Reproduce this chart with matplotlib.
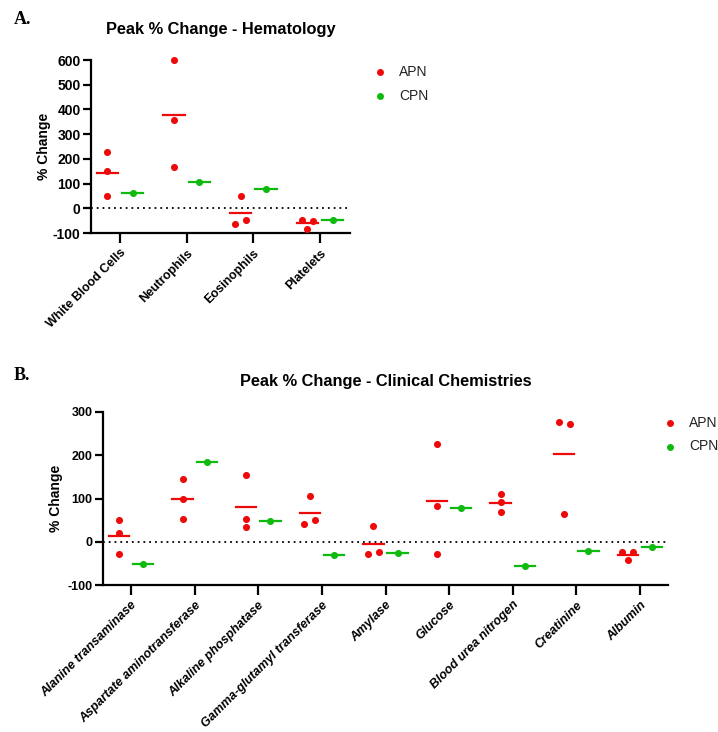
import matplotlib
matplotlib.use("Agg")
import matplotlib.pyplot as plt
import numpy as np
from matplotlib.lines import Line2D

plt.rcParams['font.family'] = ['Liberation Sans', 'DejaVu Sans']

# ---------------- data ----------------
hema_cats = ["White Blood Cells", "Neutrophils", "Eosinophils", "Platelets"]
hema_apn = [[226, 150, 50], [600, 359, 168], [51, -62, -47], [-84, -46, -51]]
hema_cpn = [62, 106, 77, -49]
hema_yticks = [-100, 0, 100, 200, 300, 400, 500, 600]

chem_cats = ["Alanine transaminase", "Aspartate aminotransferase", "Alkaline phosphatase",
             "Gamma-glutamyl transferase", "Amylase", "Glucose", "Blood urea nitrogen",
             "Creatinine", "Albumin"]
chem_apn = [[51, 20, -28], [145, 100, 52], [154, 53, 34], [106, 41, 50], [36, -29, -23],
            [226, 82, -28], [110, 91, 69], [276, 272, 64], [-23, -24, -43]]
chem_cpn = [-51, 184, 48, -30, -25, 77, -57, -21, -11]
chem_yticks = [-100, 0, 100, 200, 300]

series_names = ["APN", "CPN"]

RED = '#ee0a0a'
GREEN = '#0fba0f'
W, H = 718, 732

fig = plt.figure(figsize=(W / 100, H / 100), dpi=100)


def axes_px(l, t, r, b):
    return fig.add_axes([l / W, (H - b) / H, (r - l) / W, (b - t) / H])


def swarm_offsets(vals, px_per_unit_y, px_per_unit_x, thr=6.0, step=11.0):
    vals = np.asarray(vals, float)
    order = np.argsort(vals)
    clusters = [[order[0]]]
    for i in order[1:]:
        if (vals[i] - vals[clusters[-1][-1]]) * px_per_unit_y < thr:
            clusters[-1].append(i)
        else:
            clusters.append([i])
    offs = np.zeros(len(vals))
    for c in clusters:
        c = sorted(c)
        k = len(c)
        for j, idx in enumerate(c):
            offs[idx] = (j - (k - 1) / 2) * step / px_per_unit_x
    return offs


def panel(ax, cats, apn, cpn, ylim, yticks, xlim, title, italic, legend_xy, axbox,
          yfs, xfs, ylabel_pad):
    ax.set_xlim(*xlim)
    ax.set_ylim(*ylim)
    l, t, r, b = axbox
    ppy = (b - t) / (ylim[1] - ylim[0])
    ppx = (r - l) / (xlim[1] - xlim[0])
    d = 0.19
    hw = 0.16
    x = np.arange(len(cats))
    for i, vals in enumerate(apn):
        offs = swarm_offsets(vals, ppy, ppx)
        ax.scatter(x[i] - d + offs, vals, s=26, color=RED, zorder=3, linewidths=0, clip_on=False)
        m = np.mean(vals)
        ax.plot([x[i] - d - hw, x[i] - d + hw], [m, m], color=RED, lw=1.6, zorder=3)
    for i, v in enumerate(cpn):
        ax.scatter([x[i] + d], [v], s=26, color=GREEN, zorder=3, linewidths=0)
        ax.plot([x[i] + d - hw, x[i] + d + hw], [v, v], color=GREEN, lw=1.6, zorder=3)
    ax.axhline(0, color='black', lw=1.3, ls=(0, (1, 2.2)), zorder=1)
    for s in ['top', 'right']:
        ax.spines[s].set_visible(False)
    for s in ['left', 'bottom']:
        ax.spines[s].set_linewidth(1.6)
    ax.tick_params(axis='y', direction='out', length=6, width=1.6, pad=1.5)
    ax.tick_params(axis='x', direction='out', length=7, width=1.6, pad=3)
    ax.set_yticks(yticks)
    ax.set_yticklabels([str(v) for v in yticks], fontsize=yfs, fontweight='bold')
    ax.set_xticks(x)
    ax.set_xticklabels(cats, rotation=45, ha='right', va='top', rotation_mode='anchor',
                       fontsize=xfs, fontweight='bold', style='italic' if italic else 'normal')
    ax.set_ylabel('% Change', fontsize=10, fontweight='bold', labelpad=ylabel_pad)
    ax.set_title(title, fontsize=11.8, fontweight='bold', pad=19)
    lx, ly = legend_xy
    for k, (name, col) in enumerate(zip(series_names, [RED, GREEN])):
        yy = ly + k * 23.5
        fig.add_artist(Line2D([lx / W], [1 - yy / H], marker='o', ms=5, color=col, mew=0, ls='none'))
        fig.text((lx + 19) / W, 1 - yy / H, name, fontsize=10, va='center', ha='left', color='#222222')


boxA = (91, 60, 350, 233)
axA = axes_px(*boxA)
panel(axA, hema_cats, hema_apn, hema_cpn, (-100, 600), hema_yticks, (-0.435, 3.45),
      'Peak % Change - Hematology', False, (380, 72), boxA, 10, 9, 1.5)

boxB = (103, 412, 668, 585)
axB = axes_px(*boxB)
panel(axB, chem_cats, chem_apn, chem_cpn, (-100, 300), chem_yticks, (-0.44, 8.44),
      'Peak % Change - Clinical Chemistries', True, (670, 423), boxB, 9, 9, 3.5)

fig.text(14 / W, 1 - 20 / H, 'A.', fontsize=13, fontweight='bold', family='Liberation Serif', va='center')
fig.text(14 / W, 1 - 376 / H, 'B.', fontsize=13, fontweight='bold', family='Liberation Serif', va='center')

fig.savefig('out.png', dpi=100)
